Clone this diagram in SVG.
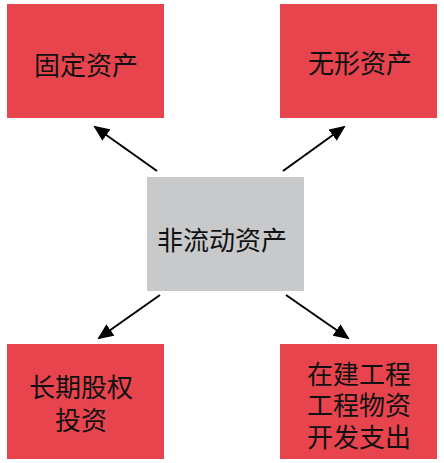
<svg xmlns="http://www.w3.org/2000/svg" width="444" height="463" viewBox="0 0 444 463">
<style>
.red{fill:#E8444E}
.gray{fill:#C8C9CB}
.t{font-family:"Noto Sans CJK SC","Noto Sans",sans-serif;font-size:26px;fill:#111;text-anchor:middle;dominant-baseline:central}
.c{stroke:#000;stroke-width:2;fill:none;marker-end:url(#ah)}
</style>
<defs>
<marker id="ah" markerWidth="8" markerHeight="7" refX="7" refY="3.5" orient="auto" markerUnits="strokeWidth">
<path d="M0,0 L8,3.5 L0,7 Z" fill="#000"/>
</marker>
</defs>
<rect width="444" height="463" fill="#fff"/>
<g id="connectors">
<line class="c" x1="157" y1="171" x2="95" y2="127"/>
<line class="c" x1="283" y1="171" x2="344" y2="127"/>
<line class="c" x1="160" y1="295" x2="99" y2="338"/>
<line class="c" x1="286" y1="295" x2="348" y2="338"/>
</g>
<g id="n-center">
<rect class="gray" x="147" y="177" width="157" height="114"/>
<text class="t" x="222" y="238">非流动资产</text>
</g>
<g id="n-fixed">
<rect class="red" x="7" y="4" width="157" height="114"/>
<text class="t" x="86" y="63">固定资产</text>
</g>
<g id="n-intangible">
<rect class="red" x="280" y="4" width="157" height="114"/>
<text class="t" x="360" y="61">无形资产</text>
</g>
<g id="n-equity">
<rect class="red" x="7" y="344" width="157" height="115"/>
<text class="t"><tspan x="81" y="385">长期股权</tspan><tspan x="81" y="418">投资</tspan></text>
</g>
<g id="n-construction">
<rect class="red" x="280" y="344" width="157" height="115"/>
<text class="t"><tspan x="359" y="372">在建工程</tspan><tspan x="359" y="403">工程物资</tspan><tspan x="359" y="435">开发支出</tspan></text>
</g>
</svg>
